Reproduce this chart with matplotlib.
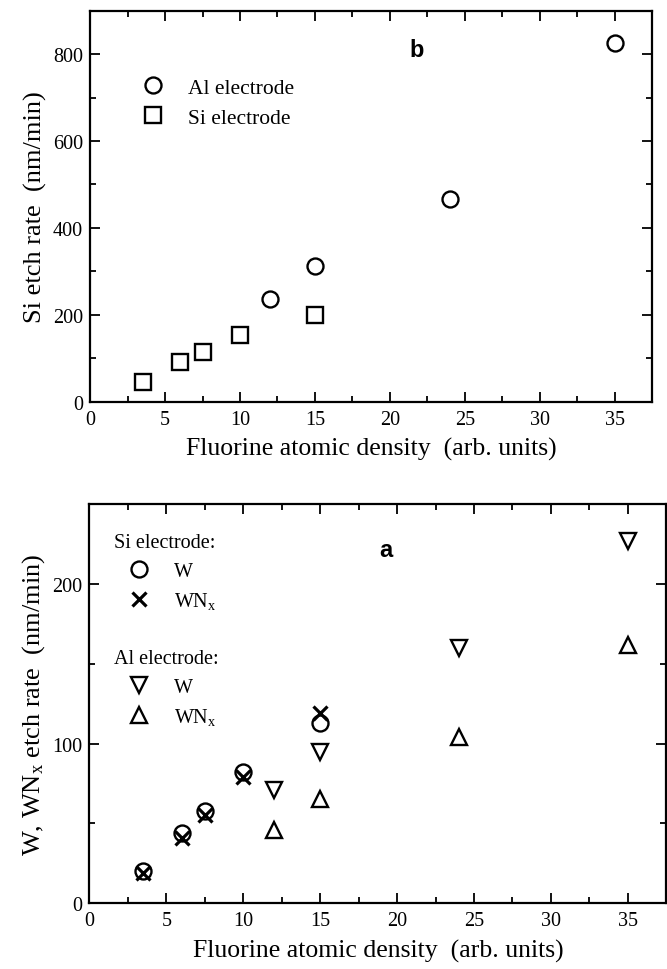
import numpy as np
import matplotlib
matplotlib.use("Agg")
import matplotlib.pyplot as plt
from matplotlib.ticker import MultipleLocator
from matplotlib.lines import Line2D

plt.rcParams["font.family"] = ["Liberation Serif", "DejaVu Serif"]
plt.rcParams["mathtext.fontset"] = "custom"
plt.rcParams["mathtext.rm"] = "Liberation Serif"
plt.rcParams["mathtext.it"] = "Liberation Serif"

# ---------------------------------------------------------
# Data: (b) Si etch rate
# ---------------------------------------------------------
al_x = [12, 15, 24, 35]
al_si_rate = [236, 312, 466, 825]

si_x = [3.5, 6, 7.5, 10, 15]
si_si_rate = [44, 91, 114, 153, 199]

# ---------------------------------------------------------
# Data: (a) W / WNx etch rate
# ---------------------------------------------------------
siel_x = [3.5, 6, 7.5, 10, 15]
siel_w = [20, 44, 58, 82, 113]
siel_wnx = [19, 41, 55, 79, 119]

alel_x = [12, 15, 24, 35]
alel_w = [71, 95, 160, 227]
alel_wnx = [46, 65, 104, 162]

fig = plt.figure(figsize=(6.67, 9.70), dpi=100)

ax_b = fig.add_axes([0.135, 0.585, 0.843, 0.403])
ax_a = fig.add_axes([0.134, 0.068, 0.865, 0.411])

mk = dict(linestyle="none", markerfacecolor="none", markeredgecolor="black",
          markeredgewidth=1.7, markersize=11.5)
mk_x = dict(mk, markeredgewidth=2.3, markersize=10)


def style_axes(ax, ymax, ymajor, yminor):
    ax.set_xlim(0, 37.5)
    ax.set_ylim(0, ymax)
    ax.xaxis.set_major_locator(MultipleLocator(5))
    ax.xaxis.set_minor_locator(MultipleLocator(2.5))
    ax.yaxis.set_major_locator(MultipleLocator(ymajor))
    ax.yaxis.set_minor_locator(MultipleLocator(yminor))
    ax.tick_params(which="both", direction="in", top=True, right=True,
                   labelsize=14.5, width=1.3)
    ax.tick_params(which="major", length=7)
    ax.tick_params(which="minor", length=4)
    ax.tick_params(axis="x", pad=6)
    ax.tick_params(axis="y", pad=5)
    for s in ax.spines.values():
        s.set_linewidth(1.6)
    ax.set_xlabel("Fluorine atomic density  (arb. units)", fontsize=18.5,
                  labelpad=6)


# ---- panel b ----
ax_b.plot(al_x, al_si_rate, marker="o", label="Al electrode", **mk)
ax_b.plot(si_x, si_si_rate, marker="s", label="Si electrode", **mk)
style_axes(ax_b, 900, 200, 100)
ax_b.set_ylabel("Si etch rate  (nm/min)", fontsize=19, labelpad=4)
ax_b.text(21.8, 810, "b", family="Liberation Sans", fontsize=17,
          fontweight="bold", ha="center", va="center")
ax_b.legend(loc="upper left", bbox_to_anchor=(0.093, 0.829), frameon=False,
            fontsize=15.5, handlelength=1.0, handletextpad=1.1,
            labelspacing=0.48, borderpad=0, borderaxespad=0)

# ---- panel a ----
ax_a.plot(siel_x, siel_w, marker="o", **mk)
ax_a.plot(siel_x, siel_wnx, marker="x", **mk_x)
ax_a.plot(alel_x, alel_w, marker="v", **mk)
ax_a.plot(alel_x, alel_wnx, marker="^", **mk)
style_axes(ax_a, 250, 100, 50)
ax_a.set_ylabel("W, WN$_\\mathrm{x}$ etch rate  (nm/min)", fontsize=19,
                labelpad=4)
ax_a.text(19.3, 222, "a", family="Liberation Sans", fontsize=17,
          fontweight="bold", ha="center", va="center")

h_si = [Line2D([], [], marker="o", **mk), Line2D([], [], marker="x", **mk_x)]
h_al = [Line2D([], [], marker="v", **mk), Line2D([], [], marker="^", **mk)]
lab = ["W", "WN$_\\mathrm{x}$"]

leg_opts = dict(loc="upper left", frameon=False, fontsize=14.5,
                title_fontsize=14.5, alignment="left", handlelength=2.5,
                handletextpad=0.5, labelspacing=0.45, borderpad=0,
                borderaxespad=0)
leg1 = ax_a.legend(h_si, lab, title="Si electrode:",
                   bbox_to_anchor=(0.042, 0.927), **leg_opts)
ax_a.add_artist(leg1)
ax_a.legend(h_al, lab, title="Al electrode:",
            bbox_to_anchor=(0.042, 0.636), **leg_opts)

fig.savefig("out.png", dpi=100)
